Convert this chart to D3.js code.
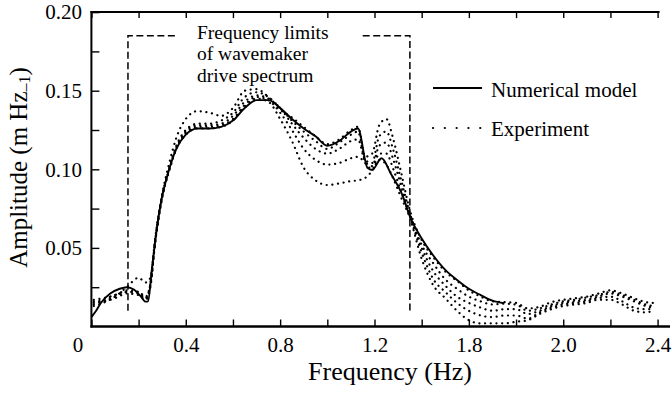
<!DOCTYPE html>
<html>
<head>
<meta charset="utf-8">
<script src="https://cdnjs.cloudflare.com/ajax/libs/d3/7.8.5/d3.min.js"></script>
<style>
body{margin:0;background:#fff;}
</style>
</head>
<body>
<div class="canvas"></div>
<script>
// data

const modelFreq = [0.00,0.02,0.04,0.08,0.12,0.15,0.18,0.21,0.23,0.24,0.256,0.277,0.30,0.32,0.36,0.40,0.45,0.50,0.55,0.60,0.65,0.70,0.75,0.80,0.85,0.90,0.95,1.00,1.05,1.10,1.13,1.17,1.19,1.23,1.27,1.32,1.35,1.40,1.45,1.50,1.55,1.60,1.65,1.70,1.75];
const modelAmp = [0.006,0.010,0.015,0.021,0.024,0.025,0.0235,0.019,0.0158,0.016,0.036,0.062,0.083,0.095,0.113,0.122,0.126,0.126,0.127,0.131,0.139,0.144,0.144,0.139,0.132,0.126,0.121,0.115,0.118,0.124,0.126,0.101,0.0996,0.107,0.097,0.083,0.070,0.056,0.045,0.036,0.0296,0.024,0.020,0.0165,0.0148];

const expFreq = [0.01,0.05,0.10,0.15,0.20,0.23,0.25,0.27,0.30,0.33,0.36,0.40,0.45,0.50,0.55,0.60,0.65,0.70,0.75,0.80,0.85,0.90,0.95,1.00,1.05,1.10,1.13,1.16,1.19,1.22,1.25,1.28,1.31,1.35,1.40,1.45,1.50,1.55,1.60,1.65,1.70,1.75,1.80,1.85,1.90,1.95,2.00,2.05,2.10,2.15,2.20,2.25,2.30,2.35,2.38];
const exp1 = [0.013,0.015,0.019,0.025,0.031,0.028,0.031,0.056,0.084,0.104,0.120,0.132,0.137,0.136,0.134,0.139,0.150,0.151,0.146,0.138,0.133,0.127,0.121,0.116,0.119,0.125,0.127,0.108,0.110,0.128,0.132,0.119,0.100,0.074,0.055,0.044,0.035,0.029,0.023,0.019,0.016,0.0155,0.015,0.0115,0.0125,0.0155,0.017,0.018,0.019,0.021,0.023,0.021,0.018,0.0155,0.015];
const exp2 = [0.014,0.016,0.019,0.022,0.022,0.019,0.027,0.054,0.083,0.101,0.115,0.125,0.129,0.129,0.131,0.136,0.146,0.149,0.146,0.139,0.131,0.124,0.118,0.113,0.117,0.122,0.124,0.106,0.104,0.121,0.124,0.112,0.095,0.072,0.052,0.040,0.030,0.024,0.019,0.016,0.014,0.0145,0.014,0.010,0.0115,0.014,0.016,0.017,0.0185,0.020,0.022,0.020,0.017,0.014,0.013];
const exp3 = [0.015,0.017,0.020,0.022,0.021,0.018,0.026,0.053,0.082,0.100,0.114,0.124,0.128,0.128,0.129,0.134,0.143,0.147,0.145,0.139,0.129,0.120,0.113,0.110,0.113,0.118,0.119,0.105,0.102,0.115,0.117,0.106,0.091,0.071,0.050,0.035,0.026,0.019,0.015,0.012,0.010,0.011,0.011,0.008,0.010,0.013,0.015,0.016,0.017,0.019,0.021,0.019,0.016,0.013,0.012];
const exp4 = [0.016,0.016,0.018,0.021,0.020,0.017,0.025,0.053,0.082,0.099,0.113,0.123,0.127,0.127,0.128,0.132,0.141,0.146,0.144,0.136,0.125,0.113,0.106,0.103,0.104,0.107,0.108,0.104,0.100,0.110,0.110,0.100,0.087,0.070,0.047,0.030,0.022,0.015,0.010,0.007,0.006,0.007,0.007,0.005,0.009,0.012,0.014,0.015,0.016,0.018,0.019,0.016,0.012,0.011,0.011];
const exp5 = [0.017,0.018,0.020,0.023,0.022,0.018,0.027,0.054,0.083,0.100,0.113,0.122,0.126,0.126,0.127,0.131,0.140,0.145,0.143,0.132,0.118,0.101,0.093,0.090,0.091,0.0925,0.093,0.0945,0.099,0.106,0.103,0.094,0.083,0.069,0.043,0.026,0.018,0.010,0.004,0.002,0.002,0.002,0.003,0.004,0.008,0.011,0.013,0.014,0.015,0.017,0.017,0.014,0.010,0.009,0.010];

// frequency limits of the drive spectrum
const limitFreq = [0.155, 1.35];
const limitCaps = [0.355, 1.15];
const limitTop = 0.185;
const limitBottom = 0.01;

const xTicks = [0,0.4,0.8,1.2,1.6,2.0,2.4];
const xTickLabels = ['0','0.4','0.8','1.2','1.8','2.0','2.4'];
const yTicks = [0.05,0.10,0.15,0.20];
const yTickLabels = ['0.05','0.10','0.15','0.20'];

const FONT = '"Liberation Serif", "Times New Roman", serif';

// dimensions
const width = 672, height = 395;

const svg = d3.select('.canvas')
.append('svg')
.attr('width', width)
.attr('height', height)
.attr('font-family', FONT);

// scales
const x = d3.scaleLinear().domain([0, 2.4]).range([91.4, 657.6]);
const y = d3.scaleLinear().domain([0, 0.2]).range([326.5, 12.1]);

const labelFor = (ticks, labels) => d => {
    const i = ticks.findIndex(t => Math.abs(t - d) < 1e-6);
    return i < 0 ? '' : labels[i];
};

// axes, ticks point inward
const xAxis = d3.axisBottom(x)
.tickValues(d3.range(0, 13).map(i => i * 0.2))
.tickSize(-7)
.tickSizeOuter(0)
.tickPadding(11)
.tickFormat(labelFor(xTicks, xTickLabels));

const yAxis = d3.axisLeft(y)
.tickValues(d3.range(1, 9).map(i => i * 0.025))
.tickSize(-8)
.tickSizeOuter(0)
.tickPadding(9.5)
.tickFormat(labelFor(yTicks, yTickLabels));

const topAxis = d3.axisTop(x)
.tickValues(d3.range(0, 13).map(i => i * 0.2))
.tickSize(-6)
.tickSizeOuter(0)
.tickFormat('');

const xAxisGroup = svg.append('g')
.attr('transform', `translate(0,${y(0)})`)
.call(xAxis);

const yAxisGroup = svg.append('g')
.attr('transform', `translate(${x(0)},0)`)
.call(yAxis);

const topGroup = svg.append('g')
.attr('transform', `translate(0,${y(0.2)})`)
.call(topAxis);

[xAxisGroup, yAxisGroup, topGroup].forEach(g => {
    g.attr('font-family', FONT).attr('font-size', 21);
    g.selectAll('text').attr('fill', '#000');
    g.selectAll('line').attr('stroke', '#000').attr('stroke-width', 1.4);
    g.select('.domain').remove();
});

// shift the origin label left like the original
xAxisGroup.selectAll('.tick text').filter(d => d === 0).attr('dx', -14);

// frame lines
svg.append('line')
.attr('x1', x(0) - 1).attr('x2', 670)
.attr('y1', y(0)).attr('y2', y(0))
.attr('stroke', '#000').attr('stroke-width', 2.6);

svg.append('line')
.attr('x1', x(0)).attr('x2', x(0))
.attr('y1', y(0) + 1).attr('y2', y(0.2) - 1)
.attr('stroke', '#000').attr('stroke-width', 2);

svg.append('line')
.attr('x1', x(0) - 1).attr('x2', x(2.4) + 2)
.attr('y1', y(0.2)).attr('y2', y(0.2))
.attr('stroke', '#000').attr('stroke-width', 2);

// line generator
const line = d3.line()
.x(d => x(d[0]))
.y(d => y(d[1]))
.curve(d3.curveMonotoneX);

// experiment curves drawn dotted
const expSeries = [exp1, exp2, exp3, exp4, exp5];
svg.append('g')
.selectAll('path')
.data(expSeries)
.enter()
.append('path')
.attr('d', s => line(expFreq.map((f, i) => [f, s[i]])))
.attr('fill', 'none')
.attr('stroke', '#000')
.attr('stroke-width', 2.2)
.attr('stroke-linecap', 'round')
.attr('stroke-dasharray', '0.1,5.6');

// numerical model
svg.append('path')
.attr('d', line(modelFreq.map((f, i) => [f, modelAmp[i]])))
.attr('fill', 'none')
.attr('stroke', '#000')
.attr('stroke-width', 1.9);

// dashed frequency limits
const straight = d3.line().x(d => x(d[0])).y(d => y(d[1]));
const limitPaths = [
    [[limitFreq[0], limitBottom], [limitFreq[0], limitTop], [limitCaps[0], limitTop]],
    [[limitCaps[1], limitTop], [limitFreq[1], limitTop], [limitFreq[1], limitBottom]]
];
svg.append('g')
.selectAll('path')
.data(limitPaths)
.enter()
.append('path')
.attr('d', straight)
.attr('fill', 'none')
.attr('stroke', '#000')
.attr('stroke-width', 1.5)
.attr('stroke-dasharray', '7,3.5');

// annotation, one text per line
['Frequency limits', 'of wavemaker', 'drive spectrum'].forEach((t, i) => {
    svg.append('text')
    .attr('x', 197)
    .attr('y', 38.5 + i * 21.5)
    .attr('font-size', 19.5)
    .text(t);
});

// legend
svg.append('line')
.attr('x1', 433).attr('x2', 482)
.attr('y1', 88).attr('y2', 88)
.attr('stroke', '#000').attr('stroke-width', 1.9);

svg.append('line')
.attr('x1', 433).attr('x2', 482)
.attr('y1', 128).attr('y2', 128)
.attr('stroke', '#000').attr('stroke-width', 2.2)
.attr('stroke-linecap', 'round')
.attr('stroke-dasharray', '0.1,11.7');

svg.append('text').attr('x', 491).attr('y', 97).attr('font-size', 21).text('Numerical model');
svg.append('text').attr('x', 491).attr('y', 136).attr('font-size', 21).text('Experiment');

// axis titles
svg.append('text')
.attr('x', 390)
.attr('y', 380)
.attr('text-anchor', 'middle')
.attr('font-size', 26)
.text('Frequency (Hz)');

const yTitle = svg.append('text')
.attr('transform', 'translate(27,167.5) rotate(-90)')
.attr('text-anchor', 'middle')
.attr('font-size', 25);
yTitle.append('tspan').text('Amplitude (m Hz');
yTitle.append('tspan').attr('font-size', 16).attr('dy', 3).text('\u20131');
yTitle.append('tspan').attr('dy', -3).text(')');

svg.selectAll('text').attr('font-family', FONT);
</script>
</body>
</html>
